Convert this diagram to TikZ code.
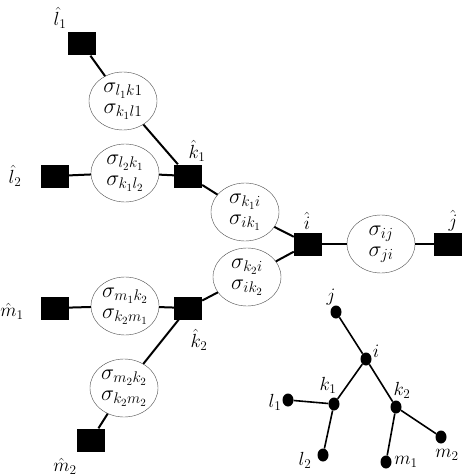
\documentclass[tikz,border=0pt]{standalone}
\usepackage{fix-cm}
\usepackage{amsmath,amssymb}
\usetikzlibrary{shapes.geometric}

\begin{document}
\begin{tikzpicture}[x=1pt,y=-1pt,
			fac/.style={fill=black,minimum width=28pt,minimum height=23pt,inner sep=0pt},
			msg/.style={
				ellipse,
				draw=black!70,
				fill=white,
				thin,
				minimum width=68pt,
				minimum height=58pt,
				inner sep=0pt,
				align=center,
				font=\fontsize{22}{21}\selectfont
			},
			lbl/.style={inner sep=0pt,font=\fontsize{19}{20}\selectfont},
			var/.style={ellipse,fill=black,minimum width=11pt,minimum height=13pt,inner sep=0pt},
			con/.style={line width=2pt},
			tree/.style={line width=1.6pt}
			]
			\useasboundingbox (0,0) rectangle (463,476);
			% factor graph
			\node[fac](l1) at (82,44){};
			\node[fac](l2) at (55,176){};
			\node[fac](k1) at (188,176){};
			\node[fac](i) at (308,244){};
			\node[fac](j) at (448,244){};
			\node[fac](m1) at (55,308){};
			\node[fac](k2) at (188,308){};
			\node[fac](m2) at (91,440){};
			\node[msg](sl1) at (123,101){$\sigma_{l_1k1}$\\$\sigma_{k_1l1}$};
			\node[msg](sl2) at (125,173){$\sigma_{l_2k_1}$\\$\sigma_{k_1l_2}$};
			\node[msg](sk1) at (245,212){$\sigma_{k_1i}$\\$\sigma_{ik_1}$};
			\node[msg](sk2) at (247,277){$\sigma_{k_2i}$\\$\sigma_{ik_2}$};
			\node[msg](sij) at (381,244){$\sigma_{ij}$\\$\sigma_{ji}$};
			\node[msg](sm1) at (125,306){$\sigma_{m_1k_2}$\\$\sigma_{k_2m_1}$};
			\node[msg](sm2) at (124,388){$\sigma_{m_2k_2}$\\$\sigma_{k_2m_2}$};
			\draw[con](l1)--(sl1);
			\draw[con](sl1)--(k1);
			\draw[con](l2)--(sl2);
			\draw[con](sl2)--(k1);
			\draw[con](k1)--(sk1);
			\draw[con](sk1)--(i);
			\draw[con](k2)--(sk2);
			\draw[con](sk2)--(i);
			\draw[con](i)--(sij);
			\draw[con](sij)--(j);
			\draw[con](m1)--(sm1);
			\draw[con](sm1)--(k2);
			\draw[con](k2)--(sm2);
			\draw[con](sm2)--(m2);
			\node[lbl](ll1) at (60,18){$\hat{l}_1$};
			\node[lbl](ll2) at (15,176){$\hat{l}_2$};
			\node[lbl](lk1) at (197,151){$\hat{k}_1$};
			\node[lbl](li) at (307,221){$\hat{i}$};
			\node[lbl](lj) at (453,221){$\hat{j}$};
			\node[lbl](lm1) at (12,311){$\hat{m}_1$};
			\node[lbl](lk2) at (199,340){$\hat{k}_2$};
			\node[lbl](lm2) at (65,466){$\hat{m}_2$};
			% tree
			\node[var](tj) at (336,312){};
			\node[var](ti) at (366,359){};
			\node[var](tk1) at (334,404){};
			\node[var](tk2) at (396,407){};
			\node[var](tl1) at (288,400){};
			\node[var](tl2) at (323,455){};
			\node[var](tm1) at (386,462){};
			\node[var](tm2) at (441,437){};
			\draw[tree](tj)--(ti);
			\draw[tree](ti)--(tk1);
			\draw[tree](ti)--(tk2);
			\draw[tree](tk1)--(tl1);
			\draw[tree](tk1)--(tl2);
			\draw[tree](tk2)--(tm1);
			\draw[tree](tk2)--(tm2);
			\node[lbl] at (331,297){$j$};
			\node[lbl] at (376,351){$i$};
			\node[lbl] at (328,385){$k_1$};
			\node[lbl] at (402,390){$k_2$};
			\node[lbl] at (275,402){$l_1$};
			\node[lbl] at (305,460){$l_2$};
			\node[lbl] at (406,462){$m_1$};
			\node[lbl] at (447,455){$m_2$};
		\end{tikzpicture}
\end{document}
